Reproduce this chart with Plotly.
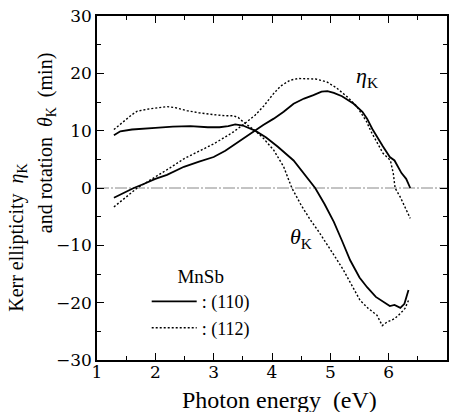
import plotly.graph_objects as go

# Photon energy (eV) and Kerr values (min)
x_rot_110 = [1.29, 1.4, 1.6, 1.8, 2.0, 2.3, 2.6, 2.9, 3.1, 3.25, 3.37, 3.5, 3.6, 3.71, 3.9, 4.1,
             4.37, 4.55, 4.74, 4.9, 5.06, 5.2, 5.34, 5.5, 5.63, 5.78, 5.91, 6.02, 6.1, 6.2, 6.27, 6.3, 6.34]
rot_110 = [9.2, 9.9, 10.2, 10.3, 10.5, 10.7, 10.8, 10.6, 10.6, 10.8, 11.1, 10.9, 10.5, 10.0, 8.8, 7.2,
           4.8, 2.5, 0.0, -2.8, -5.9, -9.2, -12.6, -15.6, -17.3, -19.0, -19.9, -20.6, -20.4, -20.9, -20.2, -19.2, -17.8]

x_ell_110 = [1.29, 1.45, 1.63, 1.8, 2.0, 2.2, 2.49, 2.75, 3.0, 3.2, 3.37, 3.55, 3.71, 3.85, 4.03, 4.2,
             4.37, 4.55, 4.71, 4.85, 4.95, 5.06, 5.2, 5.4, 5.55, 5.63, 5.72, 5.8, 5.9, 6.02, 6.1, 6.22, 6.3, 6.37]
ell_110 = [-1.7, -0.9, 0.0, 0.7, 1.6, 2.3, 3.7, 4.6, 5.4, 6.5, 7.7, 9.0, 10.0, 11.0, 12.1, 13.3,
           14.7, 15.6, 16.2, 16.8, 16.9, 16.6, 16.0, 14.7, 13.3, 12.1, 10.3, 8.9, 7.3, 5.4, 4.8, 2.6, 1.6, 0.0]

x_rot_112 = [1.29, 1.45, 1.6, 1.69, 1.9, 2.2, 2.35, 2.54, 2.75, 3.0, 3.2, 3.34, 3.42, 3.51, 3.6, 3.71,
             3.85, 4.03, 4.2, 4.34, 4.5, 4.66, 4.8, 4.94, 5.1, 5.23, 5.4, 5.51, 5.65, 5.8, 5.89, 5.97, 6.1, 6.2, 6.28, 6.34]
rot_112 = [10.2, 11.6, 12.8, 13.4, 13.8, 14.2, 14.0, 13.5, 13.1, 12.8, 12.6, 12.6, 12.3, 11.5, 10.8, 10.0,
           8.7, 6.6, 3.7, 0.0, -3.0, -5.6, -7.6, -9.7, -12.3, -14.4, -17.6, -19.6, -21.0, -22.2, -24.0, -23.4, -22.8, -21.9, -21.0, -19.6]

x_ell_112 = [1.29, 1.5, 1.69, 1.85, 2.0, 2.25, 2.49, 2.75, 3.0, 3.2, 3.34, 3.5, 3.71, 3.85, 4.03, 4.15,
             4.31, 4.45, 4.6, 4.75, 4.94, 5.1, 5.29, 5.45, 5.62, 5.7, 5.9, 6.03, 6.08, 6.11, 6.2, 6.3, 6.37]
ell_112 = [-3.3, -1.6, 0.0, 1.0, 1.9, 3.5, 5.1, 6.4, 7.7, 8.9, 9.8, 11.0, 12.7, 14.2, 16.5, 17.8,
           18.8, 19.1, 19.1, 19.0, 18.5, 17.5, 15.9, 14.3, 11.6, 9.8, 6.1, 4.8, 2.5, 0.0, -1.6, -3.8, -5.3]

x_ticks = [1, 2, 3, 4, 5, 6, 7]
y_ticks = [-30, -20, -10, 0, 10, 20, 30]
y_ticktext = ["\u221230", "\u221220", "\u221210", "0", "10", "20", "30"]

SERIF = "Liberation Serif"
TICKFONT = dict(family="DejaVu Serif", size=17, color="black")

fig = go.Figure()
solid = dict(color="black", width=1.8)
dotted = dict(color="black", width=1.4, dash="2px,2px")

fig.add_trace(go.Scatter(x=x_rot_110, y=rot_110, mode="lines", line=solid,
                         name=": (110)", showlegend=True))
fig.add_trace(go.Scatter(x=x_ell_110, y=ell_110, mode="lines", line=solid,
                         name=": (110)", showlegend=False))
fig.add_trace(go.Scatter(x=x_rot_112, y=rot_112, mode="lines", line=dotted,
                         name=": (112)", showlegend=True))
fig.add_trace(go.Scatter(x=x_ell_112, y=ell_112, mode="lines", line=dotted,
                         name=": (112)", showlegend=False))

# zero reference line
fig.add_shape(type="line", xref="x domain", yref="y", x0=0, x1=1, y0=0, y1=0,
              line=dict(color="#888888", width=1, dash="12px,2px,2px,2px"), layer="below")

axis_common = dict(showline=True, linecolor="black", linewidth=1.5, mirror="allticks",
                   ticks="inside", ticklen=7, tickwidth=1.3, tickcolor="black",
                   showgrid=False, zeroline=False, tickfont=TICKFONT, automargin=False)

fig.update_xaxes(range=[1, 7], tickvals=x_ticks, ticktext=[str(v) for v in x_ticks],
                 minor=dict(dtick=0.5, ticks="inside", ticklen=4, tickcolor="black", showgrid=False),
                 ticklabelstandoff=-4,
                 **axis_common)
fig.update_yaxes(range=[-30, 30], tickvals=y_ticks, ticktext=y_ticktext,
                 minor=dict(dtick=5, ticks="inside", ticklen=4, tickcolor="black", showgrid=False),
                 **axis_common)

ann_font = dict(family=SERIF, size=20, color="black")
fig.add_annotation(text="Kerr ellipticity&nbsp;&nbsp;<i>η</i><sub>K</sub>", textangle=-90,
                   xref="paper", yref="paper", x=-0.226, y=0.355, xanchor="center", yanchor="middle",
                   showarrow=False, font=ann_font)
fig.add_annotation(text="and rotation&nbsp;&nbsp;<i>θ</i><sub>K</sub>&nbsp;&nbsp;(min)", textangle=-90,
                   xref="paper", yref="paper", x=-0.146, y=0.63, xanchor="center", yanchor="middle",
                   showarrow=False, font=ann_font)
fig.add_annotation(text="Photon energy&nbsp;&nbsp;(eV)", xref="paper", yref="paper",
                   x=0.52, y=-0.115, xanchor="center", yanchor="middle", showarrow=False,
                   font=dict(family=SERIF, size=24, color="black"))
fig.add_annotation(text="<i>η</i><sub>K</sub>", x=5.63, y=19.3, showarrow=False,
                   font=dict(family=SERIF, size=22, color="black"))
fig.add_annotation(text="<i>θ</i><sub>K</sub>", x=4.5, y=-8.7, showarrow=False,
                   font=dict(family=SERIF, size=22, color="black"))

fig.update_layout(
    width=449, height=412,
    margin=dict(l=97, r=2, t=16, b=52),
    paper_bgcolor="white", plot_bgcolor="white",
    showlegend=True,
    legend=dict(x=0.142, y=0.295, xanchor="left", yanchor="top", bgcolor="rgba(0,0,0,0)",
                font=dict(family=SERIF, size=18, color="black"), itemwidth=45,
                title=dict(text="MnSb", side="top center", font=dict(family=SERIF, size=19, color="black")),
                tracegroupgap=0),
)

fig.write_html("out.html", config={"displayModeBar": False},
               post_script="document.body.style.margin='0';document.body.style.overflow='hidden';")
